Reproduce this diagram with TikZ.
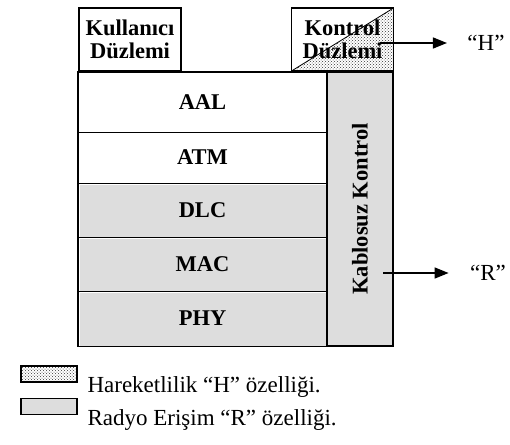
\documentclass[tikz,border=0pt]{standalone}
\usepackage{fontspec}
\setmainfont{Liberation Serif}
\usetikzlibrary{patterns,arrows.meta,calc}
\definecolor{layergray}{HTML}{DDDDDD}
\begin{document}
\begin{tikzpicture}[x=1pt,y=-1pt,
  lbl/.style={font=\fontsize{22.5}{23}\selectfont\bfseries, align=center},
  txt/.style={font=\fontsize{23}{26}\selectfont},
  plane/.style={draw, line width=1.4pt, minimum width=102, minimum height=63, inner sep=0pt, lbl},
  layer/.style={minimum width=249, inner sep=0pt, lbl},
  grayfill/.style={path picture={\fill[layergray]
      ([shift={(1.5,1.5)}]path picture bounding box.north west) rectangle
      (path picture bounding box.south east);}},
  dotfill/.style={pattern=crosshatch dots, pattern color=black!80},
  sep/.style={line width=1.1pt},
  frame/.style={line width=1.6pt},
  arr/.style={line width=1.4pt, -{Triangle[length=14pt,width=11pt]}},
  keybox/.style={draw, line width=1.2pt, minimum width=56, minimum height=16, inner sep=0pt}
]
\useasboundingbox (0,0) rectangle (510,444);

% user plane and control plane boxes
\node[plane] (user) at (130,39.5) {Kullanıcı\\Düzlemi};
\node[plane, path picture={
    \fill[dotfill] (path picture bounding box.south west) --
      (path picture bounding box.north east) --
      (path picture bounding box.south east) -- cycle;
    \draw[line width=0.8pt] (path picture bounding box.south west) --
      (path picture bounding box.north east);}]
  (ctrl) at (342.5,39.5) {Kontrol\\Düzlemi};

% protocol layers
\node[layer, minimum height=60] (aal) at (202.5,102) {AAL};
\node[layer, minimum height=51] (atm) at (202.5,157.5) {ATM};
\node[layer, minimum height=54, grayfill] (dlc) at (202.5,210) {DLC};
\node[layer, minimum height=54, grayfill] (mac) at (202.5,264) {MAC};
\node[layer, minimum height=55, grayfill] (phy) at (202.5,318.5) {PHY};

% wireless control column
\node[draw, sep, fill=layergray, minimum width=66, minimum height=274, inner sep=0pt]
  (colbox) at (360,209) {};
\node[lbl, rotate=90] (wc) at (colbox.center) {Kablosuz Kontrol};

% layer separators and outer frame
\draw[sep] (aal.south west) -- (aal.south east);
\draw[sep] (atm.south west) -- (atm.south east);
\draw[sep] (dlc.south west) -- (dlc.south east);
\draw[sep] (mac.south west) -- (mac.south east);
\draw[frame] (aal.north west) rectangle (colbox.south east);

% outgoing features
\node[txt] (hl) at (486,43) {“H”};
\node[txt] (rl) at (488,273) {“R”};
\coordinate (hs) at (380,43);
\coordinate (rs) at (383,273);
\draw[arr] (hs) -- ($(hl.west)+(-17,0)$);
\draw[arr] (rs) -- ($(rl.west)+(-18,0)$);

% legend
\node[keybox, dotfill] (k1) at (49,374) {};
\node[keybox, fill=layergray] (k2) at (49,406.5) {};
\node[txt, anchor=base west] (t1) at (84,392) {Hareketlilik “H” özelliği.};
\node[txt, anchor=base west] (t2) at (84,425) {Radyo Erişim “R” özelliği.};
\end{tikzpicture}
\end{document}
